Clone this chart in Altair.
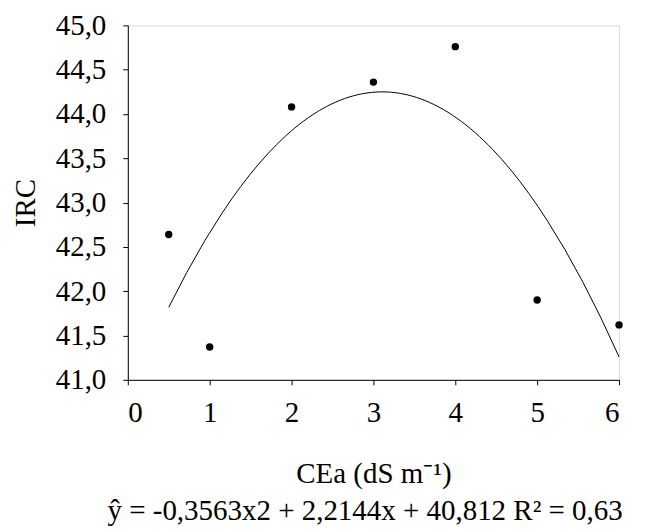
import altair as alt
import pandas as pd

cea = [0.5, 1, 2, 3, 4, 5, 6]
irc = [42.64, 41.37, 44.08, 44.36, 44.76, 41.90, 41.62]
x_ticks = [0, 1, 2, 3, 4, 5, 6]
y_ticks = [41.0, 41.5, 42.0, 42.5, 43.0, 43.5, 44.0, 44.5, 45.0]
equation = "ŷ  = -0,3563x2 + 2,2144x + 40,812  R² = 0,63"

df = pd.DataFrame({"x": cea, "y": irc})
FONT = "Liberation Serif"
FS = 29

xenc = alt.X("x:Q", scale=alt.Scale(domain=[0, 6], nice=False),
             axis=alt.Axis(values=x_ticks, title="CEa (dS m⁻¹)", format="d",
                           labelPadding=14, titlePadding=32))
yenc = alt.Y("y:Q", scale=alt.Scale(domain=[41, 45], nice=False, zero=False),
             axis=alt.Axis(values=y_ticks, title="IRC",
                           labelExpr="replace(format(datum.value, '.1f'), '.', ',')",
                           labelPadding=17, titlePadding=15))

points = alt.Chart(df).mark_circle(size=55, color="black", opacity=1).encode(x=xenc, y=yenc)
curve = alt.Chart(df).transform_regression(
    "x", "y", method="poly", order=2, extent=[0.5, 6]
).mark_line(color="black", strokeWidth=1).encode(x=xenc, y=yenc)

chart = alt.layer(curve, points).properties(
    width=492, height=355,
    padding={"left": 11, "top": 11, "right": 25, "bottom": 0},
    title=alt.TitleParams(equation, orient="bottom", anchor="end", font=FONT,
                          fontSize=FS, fontWeight="normal", color="black", offset=8),
).configure_view(stroke=None).configure(background="white").configure_axis(
    grid=False, domainColor="black", tickColor="black", tickSize=5,
    labelFont=FONT, labelFontSize=FS, labelColor="black",
    titleFont=FONT, titleFontSize=FS, titleFontWeight="normal", titleColor="black",
)

chart.save("out.html", embed_options={"renderer": "svg", "actions": False})
